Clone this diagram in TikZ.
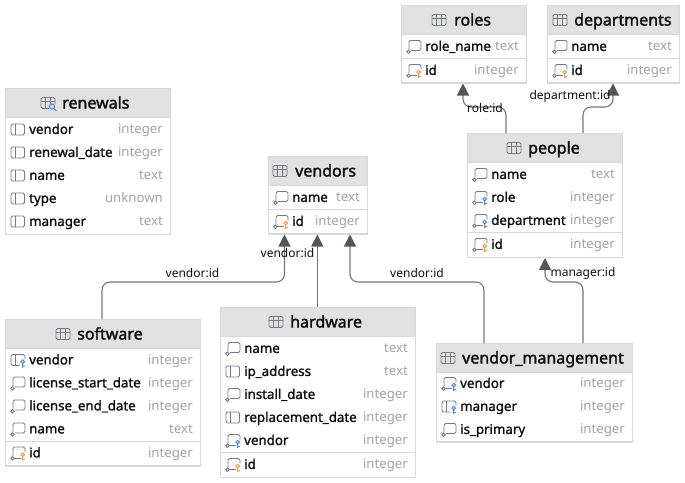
\documentclass[tikz,border=0pt]{standalone}
\usepackage{fontspec}
\setmainfont{Noto Sans}
\newfontfamily\colfont[FakeBold=1.3]{Noto Sans}
\newfontfamily\titlefont[FakeBold=1.8]{Noto Sans}
\usetikzlibrary{arrows.meta}
\definecolor{hdr}{HTML}{E1E1E1}
\definecolor{bord}{HTML}{D8D8D8}
\definecolor{ink}{HTML}{0E0E0E}
\definecolor{typ}{HTML}{A3A3A3}
\definecolor{ico}{HTML}{777A86}
\definecolor{fkblue}{HTML}{4D84EE}
\definecolor{pkor}{HTML}{F0994A}
\definecolor{linkc}{HTML}{767676}
\definecolor{tipc}{HTML}{565656}
\tikzset{
  x=1pt,y=-1pt,
  colname/.style={anchor=base west,inner sep=0pt,text=ink,font=\colfont\fontsize{13.3}{15}\selectfont},
  coltype/.style={anchor=base east,inner sep=0pt,text=typ,font=\fontsize{13.2}{15}\selectfont},
  tabtitle/.style={anchor=base west,inner sep=0pt,text=ink,font=\titlefont\fontsize{16}{18}\selectfont},
  linklabel/.style={inner sep=0pt,text=ink,font=\fontsize{12}{14}\selectfont},
  fk/.style={draw=linkc,line width=1.1pt,rounded corners=8pt,-{Triangle[length=12pt,width=12pt,color=tipc]}},
  icn/.style={draw=ico,line width=0.9pt},
}
% table frame: name, left, top, right, bottom, header bottom
\newcommand\dbframe[6]{%
  \node[draw=bord,fill=white,line width=1pt,inner sep=0pt,anchor=north west,
        minimum width=#4-#2,minimum height=#5-#3] (#1) at (#2,#3) {};
  \fill[hdr] (#2,#3) rectangle (#4,#6);
  \draw[bord,line width=1pt] (#2,#3) rectangle (#4,#5);
  \draw[bord,line width=1pt] (#2,#6) -- (#4,#6);
}
\newcommand\tabicon[2]{\begin{scope}[shift={(#1,#2)}]
  \draw[icn,rounded corners=1.5pt] (0,-5.5) rectangle (14,5.5);
  \draw[icn] (0,-2) -- (14,-2) (4.7,-5.5) -- (4.7,5.5) (9.3,-5.5) -- (9.3,5.5);
\end{scope}}
\newcommand\viewicon[2]{\begin{scope}[shift={(#1,#2)}]
  \draw[icn,rounded corners=1.5pt] (0,-5.5) rectangle (14,5.5);
  \draw[icn] (0,-2) -- (14,-2) (4.7,-5.5) -- (4.7,5.5) (9.3,-5.5) -- (9.3,5.5);
  \fill[hdr] (7.5,1) rectangle (17,7.5);
  \draw[fkblue,line width=1pt] (11,3.5) circle (2.6) (13,5.5) -- (15.5,8);
\end{scope}}
\newcommand\iconplain[2]{\begin{scope}[shift={(#1,#2)}]
  \draw[icn,rounded corners=1.5pt] (0,-5.5) rectangle (13.5,5.5);
  \draw[icn] (4,-5.5) -- (4,5.5);
\end{scope}}
\newcommand\iconnn[2]{\begin{scope}[shift={(#1,#2)}]
  \draw[icn,rounded corners=1.5pt] (2,2.8) -- (2,-6) -- (14,-6) -- (14,4) -- (4,4);
  \draw[icn] (1.5,5.2) circle (1.7);
\end{scope}}
\newcommand\keybit[1]{%
  \draw[#1,line width=1pt] (11.7,1.6) circle (1.8) (11.7,3.4) -- (11.7,7.5) (11.7,6) -- (13.9,6);
}
\newcommand\iconplainfk[2]{\begin{scope}[shift={(#1,#2)}]
  \draw[icn,rounded corners=1.5pt] (14,-1) -- (14,-5.5) -- (0,-5.5) -- (0,5.5) -- (8.5,5.5);
  \draw[icn] (4,-5.5) -- (4,5.5);
  \keybit{fkblue}
\end{scope}}
\newcommand\iconnnfk[2]{\begin{scope}[shift={(#1,#2)}]
  \draw[icn,rounded corners=1.5pt] (2,2.8) -- (2,-6) -- (14,-6) -- (14,-1);
  \draw[icn] (3.2,5.2) -- (9.5,5.2);
  \draw[icn] (1.5,5.2) circle (1.7);
  \keybit{fkblue}
\end{scope}}
\newcommand\iconnnpk[2]{\begin{scope}[shift={(#1,#2)}]
  \draw[icn,rounded corners=1.5pt] (2,2.8) -- (2,-6) -- (14,-6) -- (14,-1);
  \draw[icn] (3.2,5.2) -- (9.5,5.2);
  \draw[icn] (1.5,5.2) circle (1.7);
  \keybit{pkor}
\end{scope}}
% row: id, left, right, y centre, icon, name, type
\newcommand\colrow[7]{%
  #5{\the\numexpr#2+6\relax}{#4}
  \node[colname] (#1n) at (#2+24,#4+4.4) {#6};
  \node[coltype] (#1t) at (#3-7,#4+4.4) {#7};
}
\newcommand\tabtitle[4]{% id, text left, baseline y, text
  \node[tabtitle] (#1) at (#2,#3) {#4};
}
\begin{document}
\begin{tikzpicture}
\useasboundingbox (0,0) rectangle (685,482);
% roles
\dbframe{roles}{401}{5}{526}{82.5}{34}
\tabicon{432}{20}\tabtitle{rolesT}{454}{25.5}{roles}
\colrow{rolesA}{401}{526}{46.5}{\iconnn}{role\_name}{text}
\draw[bord,line width=1pt] (401,58.5) -- (526,58.5);
\colrow{rolesB}{401}{526}{70.5}{\iconnnpk}{id}{integer}
% departments
\dbframe{departments}{547}{5}{679}{82.5}{34}
\tabicon{553}{20}\tabtitle{depT}{574}{25.5}{departments}
\colrow{depA}{547}{679}{46.5}{\iconnn}{name}{text}
\draw[bord,line width=1pt] (547,58.5) -- (679,58.5);
\colrow{depB}{547}{679}{70.5}{\iconnnpk}{id}{integer}
% renewals
\dbframe{renewals}{5}{88}{170}{234}{117}
\viewicon{41}{103}\tabtitle{renT}{62}{108.5}{renewals}
\colrow{renA}{5}{170}{129.5}{\iconplain}{vendor}{integer}
\colrow{renB}{5}{170}{152.5}{\iconplain}{renewal\_date}{integer}
\colrow{renC}{5}{170}{175.5}{\iconplain}{name}{text}
\colrow{renD}{5}{170}{198.5}{\iconplain}{type}{unknown}
\colrow{renE}{5}{170}{221.5}{\iconplain}{manager}{text}
% vendors
\dbframe{vendors}{268}{156}{367}{233.5}{185}
\tabicon{273}{171}\tabtitle{venT}{295}{176.5}{vendors}
\colrow{venA}{268}{367}{197.5}{\iconnn}{name}{text}
\draw[bord,line width=1pt] (268,209.5) -- (367,209.5);
\colrow{venB}{268}{367}{221.5}{\iconnnpk}{id}{integer}
% people
\dbframe{people}{467}{133}{622}{257}{162}
\tabicon{507}{148}\tabtitle{peoT}{528}{153.5}{people}
\colrow{peoA}{467}{622}{174.5}{\iconnn}{name}{text}
\colrow{peoB}{467}{622}{197.5}{\iconnnfk}{role}{integer}
\colrow{peoC}{467}{622}{220.5}{\iconnnfk}{department}{integer}
\draw[bord,line width=1pt] (467,232.5) -- (622,232.5);
\colrow{peoD}{467}{622}{244.5}{\iconnnpk}{id}{integer}
% software
\dbframe{software}{5}{319}{200}{465.5}{348}
\tabicon{56}{334}\tabtitle{sofT}{77}{339.5}{software}
\colrow{sofA}{5}{200}{360}{\iconplainfk}{vendor}{integer}
\colrow{sofB}{5}{200}{383}{\iconnn}{license\_start\_date}{integer}
\colrow{sofC}{5}{200}{406}{\iconnn}{license\_end\_date}{integer}
\colrow{sofD}{5}{200}{429}{\iconnn}{name}{text}
\draw[bord,line width=1pt] (5,441) -- (200,441);
\colrow{sofE}{5}{200}{453}{\iconnnpk}{id}{integer}
% hardware
\dbframe{hardware}{220}{307}{415}{477}{336}
\tabicon{269}{322}\tabtitle{harT}{290}{327.5}{hardware}
\colrow{harA}{220}{415}{348.5}{\iconnn}{name}{text}
\colrow{harB}{220}{415}{371.5}{\iconplain}{ip\_address}{text}
\colrow{harC}{220}{415}{394.5}{\iconnn}{install\_date}{integer}
\colrow{harD}{220}{415}{417.5}{\iconplain}{replacement\_date}{integer}
\colrow{harE}{220}{415}{440.5}{\iconnnfk}{vendor}{integer}
\draw[bord,line width=1pt] (220,452.5) -- (415,452.5);
\colrow{harF}{220}{415}{464.5}{\iconnnpk}{id}{integer}
% vendor_management
\dbframe{vendormgmt}{436}{343}{632}{441.5}{372}
\tabicon{441}{358}\tabtitle{vmT}{462}{363.5}{vendor\_management}
\colrow{vmA}{436}{632}{383.5}{\iconnnfk}{vendor}{integer}
\colrow{vmB}{436}{632}{406.5}{\iconplainfk}{manager}{integer}
\colrow{vmC}{436}{632}{429.5}{\iconnn}{is\_primary}{integer}
% connectors
\draw[fk] ([xshift=97pt]software.north west) -- ++(0,-37) -| ([xshift=16.5pt]vendors.south west);
\draw[fk] ([xshift=97.3pt]hardware.north west) -- ([xshift=49.3pt]vendors.south west);
\draw[fk] ([xshift=48pt]vendormgmt.north west) -- ++(0,-61) -| ([xshift=82pt]vendors.south west);
\draw[fk] ([xshift=147pt]vendormgmt.north west) -- ++(0,-61) -| ([xshift=78pt]people.south west);
\draw[fk] ([xshift=39pt]people.north west) -- ++(0,-26) -| ([xshift=62pt]roles.south west);
\draw[fk] ([xshift=116pt]people.north west) -- ++(0,-26) -| ([xshift=66pt]departments.south west);
% labels
\node[linklabel] (lab1) at (192.5,273) {vendor:id};
\node[linklabel] (lab2) at (287.5,253) {vendor:id};
\node[linklabel] (lab3) at (417,273) {vendor:id};
\node[linklabel] (lab4) at (583,273) {manager:id};
\node[linklabel] (lab5) at (485,108) {role:id};
\node[linklabel] (lab6) at (570,96) {department:id};
\end{tikzpicture}
\end{document}
